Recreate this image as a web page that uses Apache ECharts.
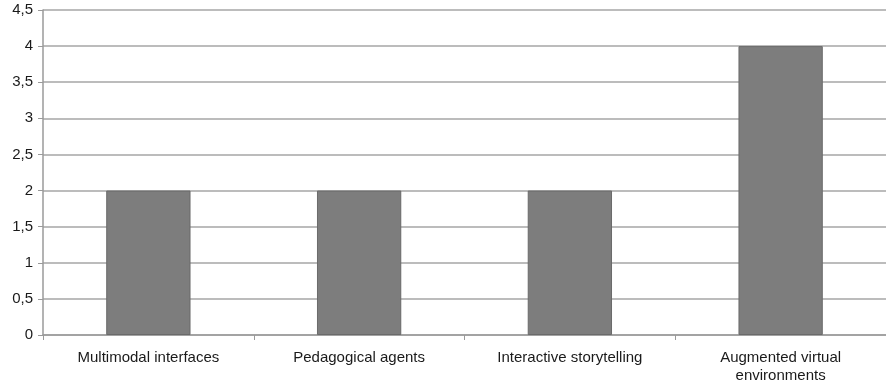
<!DOCTYPE html>
<html>
<head>
<meta charset="utf-8">
<script src="https://cdn.jsdelivr.net/npm/echarts@6/dist/echarts.min.js"></script>
<style>
  html, body { margin: 0; padding: 0; background: #fff; }
  #chart { width: 886px; height: 386px; }
</style>
</head>
<body>
<div id="chart"></div>
<script>
var categories = [
  "Multimodal interfaces",
  "Pedagogical agents",
  "Interactive storytelling",
  "Augmented virtual\nenvironments"
];
var values = [2, 2, 2, 4];

var myChart = echarts.init(document.getElementById("chart"));
var option = {
  animation: false,
  grid: { left: 43, right: 0, top: 10, bottom: 51, containLabel: false },
  xAxis: {
    type: "category",
    data: categories,
    axisLine: { lineStyle: { color: "#9a9a9a", width: 1.5 } },
    axisTick: { show: true, length: 5, lineStyle: { color: "#9a9a9a" } },
    axisLabel: {
      color: "#1a1a1a",
      fontFamily: "Liberation Sans",
      fontSize: 15,
      lineHeight: 18,
      margin: 14,
      interval: 0
    }
  },
  yAxis: {
    type: "value",
    min: 0,
    max: 4.5,
    interval: 0.5,
    axisLine: { show: true, lineStyle: { color: "#9a9a9a", width: 1.5 } },
    axisTick: { show: true, length: 5, lineStyle: { color: "#9a9a9a" } },
    splitLine: { lineStyle: { color: "#a6a6a6", width: 1.5 } },
    axisLabel: {
      color: "#1a1a1a",
      fontFamily: "Liberation Sans",
      fontSize: 15,
      margin: 10,
      formatter: function (v) { return String(v).replace(".", ","); }
    }
  },
  series: [
    {
      type: "bar",
      data: values,
      barWidth: "40%",
      itemStyle: { color: "#7d7d7d", borderColor: "#6a6a6a", borderWidth: 1 }
    }
  ]
};
myChart.setOption(option);
</script>
</body>
</html>
